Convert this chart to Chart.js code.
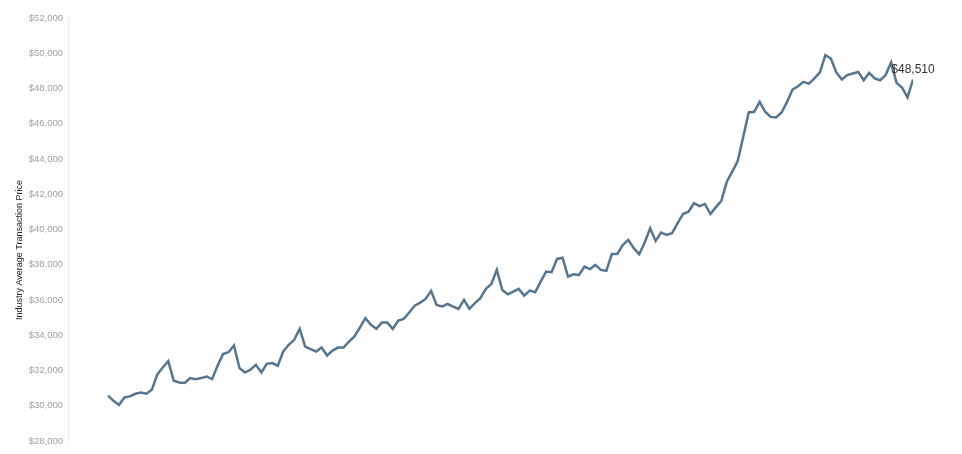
<!DOCTYPE html>
<html>
<head>
<meta charset="utf-8">
<script src="https://cdn.jsdelivr.net/npm/chart.js@4"></script>
<style>
html,body{margin:0;padding:0;background:#fff;}
#c{display:block;}
</style>
</head>
<body>
<canvas id="c" width="962" height="454"></canvas>
<script>
const yTitle = "Industry Average Transaction Price";
const yMin = 28000, yMax = 52000, yStep = 2000;
const lastLabel = "$48,510";
const prices = [
30570,30280,30040,30470,30530,30680,30750,30680,30910,31780,
32170,32530,31420,31320,31290,31570,31510,31570,31660,31510,
32270,32930,33040,33420,32140,31890,32040,32320,31890,32380,
32420,32270,33080,33460,33740,34360,33360,33210,33080,33300,
32850,33130,33300,33300,33640,33930,34440,34970,34590,34360,
34720,34720,34360,34830,34930,35290,35680,35850,36060,36520,
35720,35630,35780,35630,35500,36010,35500,35820,36100,36630,
36910,37710,36570,36330,36480,36630,36250,36530,36440,37040,
37610,37580,38330,38400,37330,37460,37420,37890,37750,37990,
37710,37650,38610,38610,39120,39410,38940,38600,39260,40070,
39350,39820,39690,39790,40350,40880,41010,41490,41330,41450,
40880,41270,41630,42710,43280,43900,45260,46640,46680,47240,
46680,46390,46360,46640,47240,47940,48130,48380,48280,48570,
48910,49890,49700,48910,48510,48760,48850,48940,48470,48890,
48570,48470,48760,49480,48320,48060,47490,48510
];
const points = prices.map((v, i) => ({x: i, y: v}));

const extras = {
  id: 'extras',
  afterDatasetsDraw(chart) {
    const ctx = chart.ctx;
    const meta = chart.getDatasetMeta(0);
    const last = meta.data[meta.data.length - 1];
    ctx.save();
    ctx.fillStyle = '#333';
    ctx.font = '12px "Liberation Sans", Arial, sans-serif';
    ctx.textAlign = 'center';
    ctx.textBaseline = 'bottom';
    ctx.fillText(lastLabel, last.x, last.y - 4);
    ctx.restore();
    ctx.save();
    ctx.translate(20, 250);
    ctx.rotate(-Math.PI / 2);
    ctx.fillStyle = '#222';
    ctx.font = '9px "Liberation Sans", Arial, sans-serif';
    ctx.textAlign = 'center';
    ctx.textBaseline = 'middle';
    ctx.fillText(yTitle, 0, 0);
    ctx.restore();
  }
};

new Chart(document.getElementById('c'), {
  type: 'line',
  data: {
    datasets: [{
      data: points,
      borderColor: '#58758f',
      borderWidth: 2.5,
      pointRadius: 0,
      tension: 0,
      fill: false
    }]
  },
  options: {
    responsive: false,
    animation: false,
    devicePixelRatio: 1,
    layout: {padding: {top: 18, bottom: 13, right: 49, left: 0}},
    plugins: {legend: {display: false}, tooltip: {enabled: false}},
    scales: {
      x: {type: 'linear', display: false, min: -7.31, max: prices.length - 1},
      y: {
        min: yMin, max: yMax,
        afterFit(s) { s.width = 68; },
        grid: {display: false, drawTicks: false},
        border: {display: true, color: '#ececec', width: 1},
        ticks: {
          stepSize: yStep,
          padding: 5,
          color: '#a0a0a0',
          font: {size: 9.5, family: '"Liberation Sans", Arial, sans-serif'},
          callback: v => '$' + v.toLocaleString('en-US')
        }
      }
    }
  },
  plugins: [extras]
});
</script>
</body>
</html>
